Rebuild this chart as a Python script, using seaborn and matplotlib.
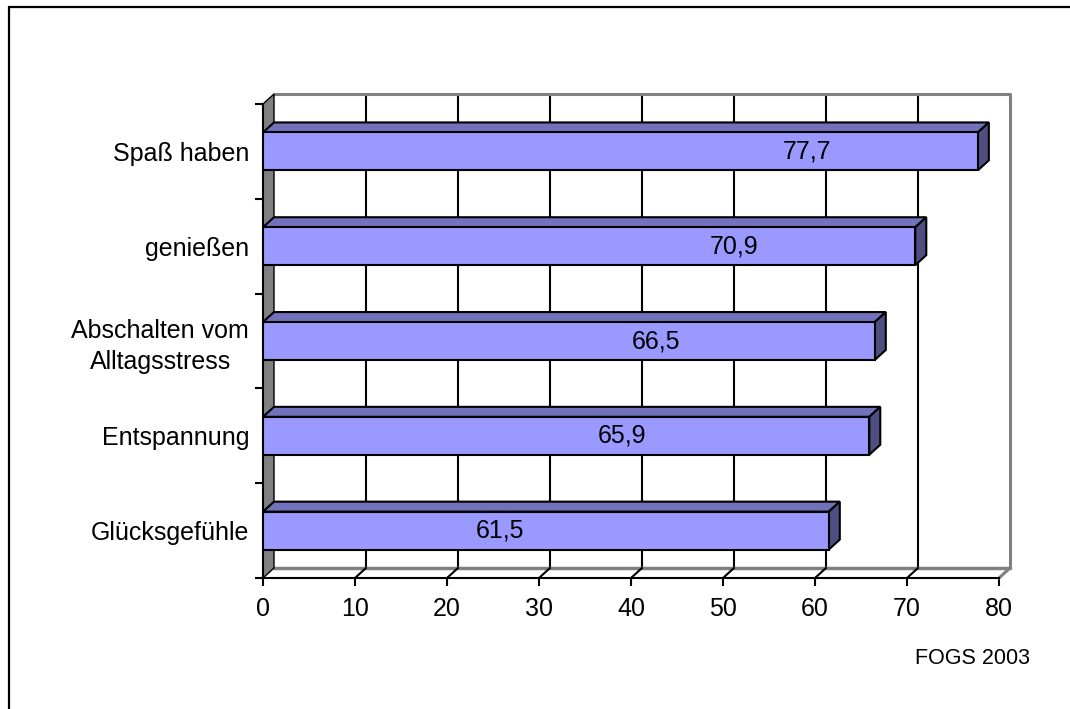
import matplotlib
matplotlib.use('Agg')
import matplotlib.pyplot as plt
from matplotlib.patches import Polygon
from matplotlib.lines import Line2D
import seaborn as sns
import numpy as np
import pandas as pd

# ---- Data -------------------------------------------####

categories = ['Spaß haben', 'genießen', 'Abschalten vom\nAlltagsstress', 'Entspannung', 'Glücksgefühle']
values = [77.7, 70.9, 66.5, 65.9, 61.5]
value_labels = ['77,7', '70,9', '66,5', '65,9', '61,5']
x_ticks = [0, 10, 20, 30, 40, 50, 60, 70, 80]
source_text = 'FOGS 2003'

# where excel put the value labels inside the bars (x in data units)
label_x = [59.1, 51.2, 42.7, 39.0, 25.8]

# ---- Style -------------------------------------------####

sns.set_style('white')
plt.rcParams['font.family'] = ['Liberation Sans', 'DejaVu Sans']
plt.rcParams['text.color'] = 'black'
plt.rcParams['xtick.labelcolor'] = 'black'
plt.rcParams['ytick.labelcolor'] = 'black'
font_size = 18

front_color = '#9999FF'
top_color = '#7171BC'
side_color = '#4E4E82'
wall_gray = '#808080'

df = pd.DataFrame({'category': categories, 'value': values})

# ---- Plot -------------------------------------------####

fig = plt.figure(figsize=(10.7, 7.09), dpi=100)
ax = fig.add_axes([263 / 1070, 131 / 709, 736 / 1070, 474 / 709])

sns.barplot(data=df, x='value', y='category', orient='h', width=0.4, color=front_color,
            saturation=1, edgecolor='black', linewidth=1.5, ax=ax, zorder=5)

ax.set_xlim(0, 80)
ax.set_ylim(4.5, -0.5)
ax.patch.set_visible(False)

# depth of the fake 3d effect, in data units
bbox = ax.get_window_extent()
dx = 11 * 80 / bbox.width
dy = 10 * 5 / bbox.height
y_front = 4.5
y_back = y_front - dy
y_top = -0.5 - dy

# back wall
ax.add_patch(Polygon([(dx, y_back), (80 + dx, y_back), (80 + dx, y_top), (dx, y_top)],
                     closed=True, facecolor='white', edgecolor='none', zorder=0, clip_on=False))
for t in x_ticks[1:-1]:
    ax.add_line(Line2D([t + dx, t + dx], [y_back, y_top], color='black', lw=1.5, zorder=1, clip_on=False))
ax.add_line(Line2D([dx, 80 + dx, 80 + dx], [y_top, y_top, y_back], color=wall_gray, lw=2.2, zorder=1, clip_on=False))

# floor
ax.add_line(Line2D([dx, 80 + dx], [y_back, y_back], color=wall_gray, lw=2.5, zorder=1, clip_on=False))
ax.add_line(Line2D([80, 80 + dx], [y_front, y_back], color=wall_gray, lw=2.2, zorder=1, clip_on=False))
for t in x_ticks[1:-1]:
    ax.add_line(Line2D([t, t + dx], [y_front, y_back], color='black', lw=1.5, zorder=2, clip_on=False))

# left wall
ax.add_patch(Polygon([(0, y_front), (dx, y_back), (dx, y_top), (0, -0.5)], closed=True,
                     facecolor=wall_gray, edgecolor='black', lw=1.0, zorder=2, clip_on=False))

# top and side faces of the bars
for i, v in enumerate(values):
    y0 = i - 0.2
    y1 = i + 0.2
    ax.add_patch(Polygon([(0, y0), (v, y0), (v + dx, y0 - dy), (dx, y0 - dy)], closed=True,
                         facecolor=top_color, edgecolor='black', lw=1.5, zorder=4, clip_on=False))
    ax.add_patch(Polygon([(v, y0), (v, y1), (v + dx, y1 - dy), (v + dx, y0 - dy)], closed=True,
                         facecolor=side_color, edgecolor='black', lw=1.5, zorder=4, clip_on=False))
    ax.text(label_x[i], i, value_labels[i], ha='center', va='center', fontsize=font_size, color='black', zorder=6)

# axes
for s in ['top', 'right']:
    ax.spines[s].set_visible(False)
for s in ['left', 'bottom']:
    ax.spines[s].set_color('black')
    ax.spines[s].set_linewidth(1.5)
    ax.spines[s].set_zorder(3)

ax.set_xticks(x_ticks)
ax.set_xticklabels([str(t) for t in x_ticks], fontsize=font_size)
ax.tick_params(axis='x', direction='out', length=6, width=1.5, color='black', pad=8, bottom=True)

ax.set_yticks(range(len(categories)))
ax.set_yticklabels(categories, fontsize=font_size, multialignment='center', linespacing=1.35)
ax.set_yticks(np.arange(-0.5, len(categories), 1.0), minor=True)
ax.tick_params(axis='y', which='major', length=0, pad=10)
ax.tick_params(axis='y', which='minor', direction='out', length=6, width=1.5, color='black', left=True)
ax.set_xlabel('')
ax.set_ylabel('')

# source note
fig.text(1030 / 1070, (709 - 658) / 709, source_text, ha='right', va='center', fontsize=15.5, color='black')

# frame of the excel chart area (only top and left visible)
fig.add_artist(Line2D([9 / 1070, 1], [1 - 7 / 709, 1 - 7 / 709], transform=fig.transFigure, color='black', lw=1.6))
fig.add_artist(Line2D([9 / 1070, 9 / 1070], [0, 1 - 7 / 709], transform=fig.transFigure, color='black', lw=1.6))

plt.savefig('out.png', dpi=100)
plt.close('all')
